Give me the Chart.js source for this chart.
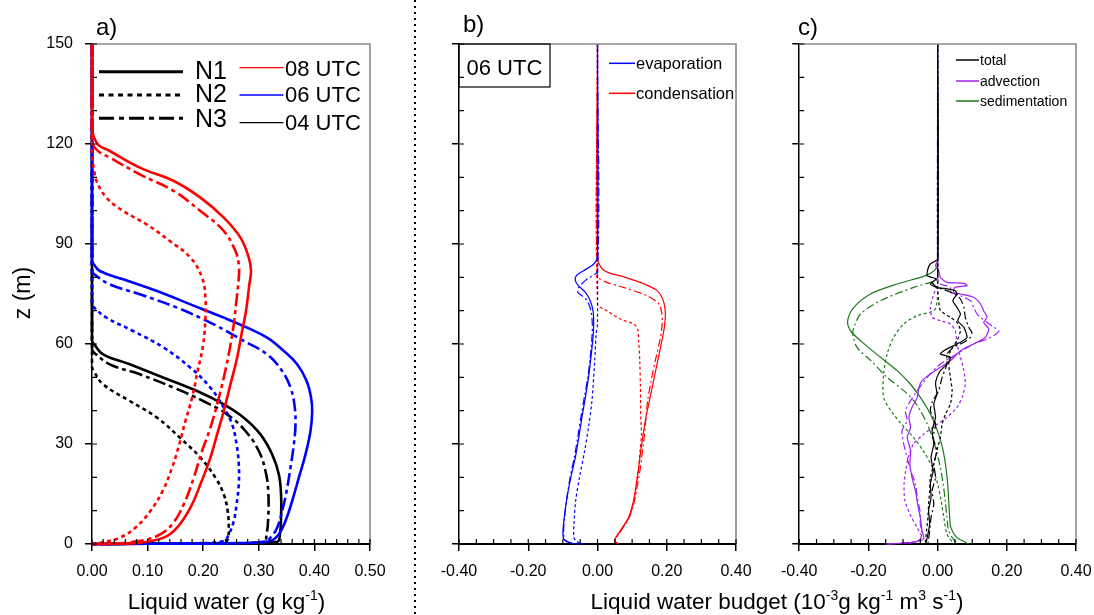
<!DOCTYPE html>
<html><head><meta charset="utf-8">
<script src="https://cdn.jsdelivr.net/npm/chart.js@4.4.1/dist/chart.umd.min.js"></script>
<style>
html,body{margin:0;padding:0;background:#fff;}
#wrap{position:relative;width:1094px;height:615px;overflow:hidden;background:#fff;}
canvas{position:absolute;top:0;}
</style></head><body>
<div id="wrap">
<canvas id="ca" width="420" height="615" style="left:0;width:420px;height:615px"></canvas>
<canvas id="cb" width="674" height="615" style="left:420px;width:674px;height:615px"></canvas>
<canvas id="cc" width="340" height="615" style="left:770px;width:340px;height:615px"></canvas>
</div>
<script>
// ---------- DATA : pairs are [height z (m), value] ----------
// Panel a) liquid water (g/kg)
const lw08_N1 = [[150,0],[125,0],[120,0.01],[117.9,0.032],[112.9,0.086],[108.9,0.147],[103.9,0.195],[97.9,0.237],[91.9,0.267],[85.9,0.282],[81.9,0.286],[77.9,0.283],[69.9,0.277],[63.9,0.270],[55.9,0.261],[47.9,0.249],[39.9,0.237],[32.9,0.225],[25.9,0.213],[17.9,0.195],[10.9,0.177],[4.9,0.153],[1.9,0.129],[0.4,0.086],[0.05,0.026],[0,0]];
const lw08_N2 = [[150,0],[117,0],[112,0.004],[108.9,0.008],[103.9,0.026],[99.9,0.056],[95.9,0.098],[90.9,0.14],[85.9,0.177],[79.9,0.198],[73.9,0.204],[67.9,0.204],[59.9,0.2],[51.9,0.19],[43.9,0.18],[36.9,0.168],[29.9,0.157],[22.9,0.144],[15.9,0.127],[9.9,0.105],[4.9,0.078],[1.9,0.05],[0.4,0.016],[0,0]];
const lw08_N3 = [[150,0],[121,0],[118,0.01],[115.9,0.032],[110.9,0.086],[105.9,0.147],[99.9,0.195],[93.9,0.237],[87.9,0.258],[83.9,0.264],[79.9,0.264],[71.9,0.259],[65.9,0.255],[57.9,0.247],[49.9,0.237],[41.9,0.225],[34.9,0.213],[27.9,0.198],[19.9,0.183],[11.9,0.165],[5.9,0.144],[2.4,0.117],[0.65,0.074],[0.05,0.026],[0,0]];
const lw06_N1 = [[150,0],[85,0],[84,0.003],[81.9,0.014],[79.4,0.056],[75.9,0.117],[71.9,0.177],[67.9,0.237],[64.9,0.279],[61.9,0.315],[57.9,0.345],[53.9,0.369],[48.9,0.386],[43.9,0.394],[39.9,0.396],[33.9,0.393],[26.9,0.384],[19.9,0.372],[12.9,0.36],[6.9,0.348],[2.9,0.336],[0.9,0.321],[0.3,0.267],[0.1,0.1],[0,0]];
const lw06_N2 = [[150,0],[72,0],[70.9,0.004],[67.9,0.026],[63.9,0.074],[58.9,0.129],[52.9,0.177],[46.9,0.213],[40.9,0.237],[35.9,0.252],[29.9,0.26],[23.9,0.264],[17.9,0.264],[11.9,0.26],[6.9,0.255],[2.9,0.246],[0.9,0.237],[0.2,0.177],[0.1,0.1],[0,0]];
const lw06_N3 = [[150,0],[82,0],[80.9,0.004],[77.9,0.032],[74.9,0.086],[70.9,0.153],[65.9,0.219],[60.9,0.273],[56.9,0.315],[51.9,0.342],[46.9,0.357],[41.9,0.364],[35.9,0.366],[29.9,0.363],[22.9,0.357],[15.9,0.35],[9.9,0.342],[4.9,0.333],[1.9,0.321],[0.65,0.309],[0.2,0.237],[0.1,0.1],[0,0]];
const lw04_N1 = [[150,0],[61,0],[59.9,0.004],[56.9,0.02],[53.9,0.068],[49.9,0.129],[45.9,0.189],[41.9,0.237],[37.9,0.273],[32.9,0.303],[26.9,0.324],[20.9,0.336],[14.9,0.34],[7.9,0.34],[2.9,0.338],[0.65,0.333],[0.2,0.237],[0.1,0.1],[0,0]];
const lw04_N2 = [[150,0],[53,0],[51.9,0.003],[47.9,0.02],[42.9,0.068],[37.9,0.117],[31.9,0.158],[25.9,0.195],[19.9,0.222],[14.9,0.237],[9.9,0.244],[4.9,0.246],[1.4,0.244],[0.35,0.237],[0.1,0.1],[0,0]];
const lw04_N3 = [[150,0],[58.5,0],[57.4,0.004],[53.9,0.032],[50.9,0.086],[46.9,0.147],[42.9,0.2],[38.9,0.243],[33.9,0.276],[27.9,0.3],[21.9,0.312],[15.9,0.317],[7.9,0.317],[2.9,0.314],[0.65,0.309],[0.2,0.237],[0.1,0.1],[0,0]];

// Panel b) 06 UTC evaporation / condensation (1e-3 g/kg m3/s)
const evap_N1 = [[150,0],[86.5,0],[84,-0.011],[82,-0.04],[80.5,-0.061],[79,-0.064],[77.5,-0.055],[75.5,-0.035],[73,-0.021],[70,-0.013],[66,-0.011],[62,-0.013],[56,-0.019],[50,-0.026],[44,-0.035],[38,-0.045],[32,-0.054],[26,-0.064],[20,-0.077],[14,-0.088],[8,-0.096],[3,-0.1],[1.25,-0.096],[0.3,-0.079],[0,-0.05]];
const evap_N2 = [[150,0],[66,0],[63,-0.004],[55,-0.008],[43,-0.016],[35,-0.026],[28,-0.037],[20,-0.052],[13,-0.063],[6,-0.068],[2,-0.068],[0.7,-0.06],[0.2,-0.045],[0,-0.03]];
const evap_N3 = [[150,0],[82,0],[79.5,-0.03],[77,-0.054],[75.5,-0.057],[74.5,-0.045],[73,-0.03],[70,-0.019],[66,-0.015],[62,-0.016],[56,-0.021],[50,-0.028],[44,-0.038],[38,-0.048],[32,-0.057],[26,-0.067],[20,-0.079],[14,-0.088],[8,-0.095],[3,-0.098],[1.25,-0.093],[0.3,-0.075],[0,-0.05]];
const cond_N1 = [[150,0],[86,0],[83,0.01],[81.5,0.03],[80,0.08],[78,0.135],[76,0.172],[73,0.19],[69,0.196],[65,0.193],[61,0.186],[55,0.174],[49,0.162],[43,0.15],[38,0.14],[33,0.132],[28,0.125],[23,0.119],[18,0.112],[13,0.104],[8,0.09],[4,0.066],[1,0.049],[0,0.06]];
const cond_N2 = [[150,0],[72,0],[70,0.027],[67.5,0.066],[66,0.104],[64.5,0.116],[61,0.119],[55,0.122],[47,0.124],[38,0.125],[33,0.127],[28,0.123],[23,0.119],[18,0.113],[13,0.105],[8,0.091],[4,0.067],[1,0.05],[0,0.06]];
const cond_N3 = [[150,0],[80.5,0],[78.5,0.027],[77,0.075],[74.5,0.143],[72,0.177],[69,0.186],[65,0.186],[61,0.18],[55,0.167],[49,0.155],[43,0.145],[38,0.14],[33,0.136],[28,0.13],[23,0.124],[18,0.116],[13,0.107],[8,0.092],[4,0.068],[1,0.05],[0,0.06]];

// Panel c) 06 UTC total / advection / sedimentation
const tot_N1 = [[150,0],[85.5,0],[84,-0.021],[82.5,-0.028],[80.5,-0.03],[79.5,-0.004],[78,-0.021],[77,-0.004],[76.5,0.03],[76,0.051],[75,0.056],[73,0.044],[71,0.056],[69,0.066],[67,0.058],[65,0.076],[62,0.085],[60.5,0.066],[59.5,0.046],[58,0.018],[57,0.008],[56,0.037],[54,0.027],[52,0.008],[50,-0.002],[48,-0.006],[45,-0.002],[42,-0.011],[38,-0.006],[34,-0.016],[30,-0.011],[26,-0.019],[22,-0.013],[18,-0.021],[14,-0.019],[10,-0.026],[6,-0.023],[3,-0.028],[1,-0.032],[0,-0.034]];
const tot_N2 = [[150,0],[77,0],[73,0.003],[70,0.008],[68,0.037],[66.5,0.056],[64,0.066],[61,0.056],[58,0.037],[54,0.032],[50,0.037],[46,0.042],[42,0.037],[39,0.023],[36,0.013],[32,0.008],[28,-0.002],[24,-0.011],[20,-0.021],[16,-0.023],[12,-0.026],[8,-0.028],[4,-0.032],[1,-0.035],[0,-0.035]];
const tot_N3 = [[150,0],[80,0],[78.5,-0.016],[77,-0.002],[76,0.027],[75,0.051],[73.5,0.066],[71,0.076],[68,0.08],[65,0.09],[63.5,0.099],[62,0.095],[60.5,0.076],[59,0.046],[57,0.027],[54,0.027],[50,0.013],[46,0.003],[42.5,-0.016],[40,-0.021],[36,-0.006],[32,-0.013],[28,-0.002],[24,-0.011],[20,-0.006],[16,-0.016],[12,-0.011],[8,-0.019],[4,-0.023],[1.5,-0.026],[0,-0.028]];
const adv_N1 = [[150,0],[85,0],[83.5,-0.006],[82,0.003],[80,0.008],[78.5,0.027],[78.2,0.076],[77.5,0.085],[77,0.05],[75.5,0.046],[75,0.066],[74,0.104],[72,0.124],[70,0.133],[68,0.143],[66.5,0.133],[64.5,0.148],[62,0.138],[60,0.104],[58,0.066],[55,0.037],[53,0.008],[51,-0.021],[49,-0.045],[47,-0.054],[44,-0.059],[41,-0.074],[38,-0.083],[35,-0.078],[32,-0.088],[28,-0.078],[24,-0.08],[20,-0.074],[16,-0.064],[12,-0.058],[8,-0.05],[4,-0.045],[1.5,-0.04],[0.55,-0.069],[0.2,-0.11],[0,-0.15]];
const adv_N2 = [[150,0],[78,0],[75,-0.011],[71,-0.021],[68,-0.016],[67,0.008],[66,0.037],[64,0.051],[60,0.056],[56,0.066],[52,0.076],[48,0.08],[44,0.071],[41,0.056],[38,0.027],[36,0.0],[33,-0.04],[30,-0.07],[26,-0.085],[22,-0.092],[18,-0.097],[13,-0.095],[9,-0.08],[5,-0.06],[2,-0.045],[0.8,-0.06],[0,-0.09]];
const adv_N3 = [[150,0],[80,0],[78,0.008],[77,0.037],[75.5,0.037],[74.5,0.066],[73,0.095],[71,0.104],[69,0.114],[68,0.124],[66.5,0.143],[65,0.162],[64,0.177],[62.5,0.162],[61.5,0.143],[60,0.104],[57,0.056],[54,0.008],[50,-0.03],[46,-0.059],[43,-0.078],[40,-0.093],[37,-0.088],[34,-0.103],[30,-0.098],[26,-0.088],[22,-0.078],[18,-0.064],[14,-0.059],[10,-0.051],[6,-0.05],[3,-0.045],[1,-0.054],[0.25,-0.107],[0,-0.146]];
const sed_N1 = [[150,0],[84,0],[82,-0.01],[80.5,-0.035],[78,-0.117],[75,-0.194],[71,-0.242],[67,-0.26],[64,-0.252],[61,-0.223],[56,-0.165],[52,-0.117],[48,-0.079],[44,-0.05],[40,-0.026],[36,-0.008],[32,0.006],[28,0.016],[23,0.024],[18,0.029],[13,0.032],[8,0.035],[5,0.038],[2,0.055],[0.8,0.075],[0,0.09]];
const sed_N2 = [[150,0],[76,0],[72,-0.003],[70,-0.011],[68.5,-0.059],[66,-0.098],[62,-0.127],[57,-0.146],[51,-0.156],[44,-0.156],[40,-0.135],[36,-0.105],[32,-0.07],[28,-0.042],[23,-0.015],[18,0.0],[13,0.01],[8,0.018],[3,0.027],[1,0.04],[0,0.048]];
const sed_N3 = [[150,0],[80,0],[79,-0.006],[77,-0.069],[73,-0.165],[69,-0.223],[65,-0.242],[63,-0.245],[59,-0.233],[55,-0.193],[50,-0.146],[46,-0.098],[43,-0.069],[40,-0.05],[36,-0.03],[32,-0.015],[28,-0.004],[23,0.008],[18,0.016],[13,0.022],[8,0.027],[4,0.032],[1.5,0.045],[0,0.06]];

// ---------- helpers ----------
const FONT = '"Liberation Sans", Arial, Helvetica, sans-serif';
Chart.defaults.font.family = FONT;
Chart.defaults.color = '#000';
const RED='#ff0000', BLUE='#0000ff', BLACK='#000000', PURPLE='#a020f0', GREEN='#1a7a1a';
const DOT_A=[4,3.5], DASHDOT_A=[13,4,4,4], DOT_T=[3,2.5], DASHDOT_T=[8,3,2,3];

function toPts(pairs){ return pairs.map(p => ({x: p[1], y: p[0]})); }
function line(pairs, color, width, dash, tension){
  return {data: toPts(pairs), borderColor: color, backgroundColor: color, borderWidth: width,
    borderDash: dash || [], pointRadius: 0, pointHoverRadius: 0, showLine: true, fill: false,
    tension: tension, clip: 3, borderCapStyle: 'butt', borderJoinStyle: 'round'};
}
function fmt(v){ if (Math.abs(v) < 1e-9) v = 0; return v.toFixed(2); }
function scales(o){
  return {
    x: {type:'linear', min:o.xmin, max:o.xmax, afterFit: s => { s.height = 71; },
      ticks:{stepSize:o.xstep, autoSkip:false, maxRotation:0, padding:11, font:{size:16}, color:'#000', callback: v => fmt(v)},
      grid:{drawOnChartArea:false, drawTicks:true, tickLength:7, color:'#000', lineWidth:1.5},
      border:{display:true, color:'#000', width:2}},
    y: {type:'linear', min:0, max:150, afterFit: s => { s.width = o.yw; },
      ticks:{stepSize:30, display:o.ylab, padding:12, font:{size:16}, color:'#000'},
      grid:{drawOnChartArea:false, drawTicks:true, tickLength:7, color:'#000', lineWidth:1.5},
      border:{display:true, color:'#000', width:1.5}}
  };
}
function frameAndMinor(chart, xMinor){
  const ctx = chart.ctx, a = chart.chartArea, x = chart.scales.x, y = chart.scales.y;
  ctx.save();
  ctx.strokeStyle = '#8a8a8a'; ctx.lineWidth = 1.6;
  ctx.beginPath(); ctx.moveTo(a.left, a.top); ctx.lineTo(a.right, a.top); ctx.lineTo(a.right, a.bottom); ctx.stroke();
  ctx.strokeStyle = '#000'; ctx.lineWidth = 1.2;
  ctx.beginPath();
  const n = Math.round((x.max - x.min) / xMinor);
  for (let i = 0; i <= n; i++){ const px = x.getPixelForValue(x.min + i * xMinor); ctx.moveTo(px, a.bottom); ctx.lineTo(px, a.bottom - 5); }
  for (let v = 0; v <= 150; v += 10){ const py = y.getPixelForValue(v); ctx.moveTo(a.left, py); ctx.lineTo(a.left + 5, py); }
  ctx.stroke();
  ctx.restore();
}
function rich(ctx, segs, cx, base, size){
  const sup = Math.round(size * 0.62);
  let w = 0;
  segs.forEach(s => { ctx.font = (s[1] ? sup : size) + 'px ' + FONT; w += ctx.measureText(s[0]).width; });
  let x = cx - w / 2;
  ctx.textBaseline = 'alphabetic'; ctx.textAlign = 'left'; ctx.fillStyle = '#000';
  segs.forEach(s => {
    ctx.font = (s[1] ? sup : size) + 'px ' + FONT;
    ctx.fillText(s[0], x, s[1] ? base - size * 0.42 : base);
    x += ctx.measureText(s[0]).width;
  });
}
function legLine(ctx, x1, x2, y, color, width, dash){
  ctx.save(); ctx.strokeStyle = color; ctx.lineWidth = width; ctx.setLineDash(dash || []);
  ctx.beginPath(); ctx.moveTo(x1, y); ctx.lineTo(x2, y); ctx.stroke(); ctx.restore();
}
function txt(ctx, s, x, y, size, base){
  ctx.font = size + 'px ' + FONT; ctx.fillStyle = '#000'; ctx.textAlign = 'left';
  ctx.textBaseline = base || 'alphabetic'; ctx.fillText(s, x, y);
}
const common = {responsive:false, animation:false, devicePixelRatio:1, events:[],
  plugins:{legend:{display:false}, tooltip:{enabled:false}}};

// ---------- Panel a ----------
new Chart(document.getElementById('ca'), {
  type:'scatter',
  data:{datasets:[
    line(lw08_N1, RED, 2.6, [], 0.4), line(lw08_N3, RED, 2.6, DASHDOT_A, 0.4), line(lw08_N2, RED, 2.6, DOT_A, 0.4),
    line(lw06_N1, BLUE, 2.6, [], 0.4), line(lw06_N3, BLUE, 2.6, DASHDOT_A, 0.4), line(lw06_N2, BLUE, 2.6, DOT_A, 0.4),
    line(lw04_N1, BLACK, 2.6, [], 0.4), line(lw04_N3, BLACK, 2.6, DASHDOT_A, 0.4), line(lw04_N2, BLACK, 2.6, DOT_A, 0.4)
  ]},
  options:Object.assign({}, common, {
    layout:{padding:{top:44, right:50, left:0, bottom:0}},
    scales: scales({xmin:0, xmax:0.5, xstep:0.1, yw:92, ylab:true})
  }),
  plugins:[{id:'decoA', afterDraw(chart){
    const ctx = chart.ctx;
    frameAndMinor(chart, 0.02);
    // legend
    legLine(ctx, 99, 183, 71.7, BLACK, 3, []);
    legLine(ctx, 99, 183, 95, BLACK, 3, [5,4.5]);
    legLine(ctx, 99, 183, 118.3, BLACK, 3, [15,5,5,5]);
    txt(ctx, 'N1', 195, 78.5, 25); txt(ctx, 'N2', 195, 102, 25); txt(ctx, 'N3', 195, 127, 25);
    legLine(ctx, 239.5, 283.5, 67.7, RED, 1.3, []);
    legLine(ctx, 239.5, 283.5, 95, BLUE, 1.3, []);
    legLine(ctx, 239.5, 283.5, 122.7, BLACK, 1.3, []);
    txt(ctx, '08 UTC', 285, 76, 22); txt(ctx, '06 UTC', 285, 102, 22); txt(ctx, '04 UTC', 285, 130, 22);
    // panel label and titles
    txt(ctx, 'a)', 96, 28, 24, 'middle');
    rich(ctx, [['Liquid water (g kg',0],['-1',1],[')',0]], 226.5, 609, 22.5);
    ctx.save(); ctx.translate(24, 293); ctx.rotate(-Math.PI/2);
    ctx.font = '23px ' + FONT; ctx.textAlign = 'center'; ctx.textBaseline = 'middle'; ctx.fillStyle = '#000';
    ctx.fillText('z (m)', 0, 0); ctx.restore();
    // dotted separator between panel a and panels b/c
    ctx.save(); ctx.strokeStyle = '#000'; ctx.lineWidth = 2; ctx.setLineDash([2,4]);
    ctx.beginPath(); ctx.moveTo(415, 0); ctx.lineTo(415, 615); ctx.stroke(); ctx.restore();
  }}]
});

// ---------- Panel b ----------
new Chart(document.getElementById('cb'), {
  type:'scatter',
  data:{datasets:[
    line(evap_N2, BLUE, 1.2, DOT_T, 0.3), line(evap_N3, BLUE, 1.2, DASHDOT_T, 0.3), line(evap_N1, BLUE, 1.2, [], 0.3),
    line(cond_N2, RED, 1.2, DOT_T, 0.3), line(cond_N3, RED, 1.2, DASHDOT_T, 0.3), line(cond_N1, RED, 1.2, [], 0.3)
  ]},
  options:Object.assign({}, common, {
    layout:{padding:{top:44, right:358, left:0, bottom:0}},
    scales: scales({xmin:-0.4, xmax:0.4, xstep:0.2, yw:39, ylab:false})
  }),
  plugins:[{id:'decoB', afterDraw(chart){
    const ctx = chart.ctx, a = chart.chartArea;
    frameAndMinor(chart, 0.05);
    ctx.save(); ctx.strokeStyle = '#000'; ctx.lineWidth = 1.2;
    ctx.strokeRect(a.left, a.top, 91, 43); ctx.restore();
    txt(ctx, '06 UTC', 46.5, 75, 22);
    legLine(ctx, 189, 215, 63.3, BLUE, 1.5, []); txt(ctx, 'evaporation', 216, 64, 16.5, 'middle');
    legLine(ctx, 189, 215, 93.3, RED, 1.5, []); txt(ctx, 'condensation', 216, 94, 16.5, 'middle');
    txt(ctx, 'b)', 43, 25, 24, 'middle');
    rich(ctx, [['Liquid water budget (10',0],['-3',1],['g kg',0],['-1',1],[' m',0],['3',1],[' s',0],['-1',1],[')',0]], 357, 609, 22.5);
  }}]
});

// ---------- Panel c ----------
new Chart(document.getElementById('cc'), {
  type:'scatter',
  data:{datasets:[
    line(tot_N1, BLACK, 1.2, [], 0.2), line(tot_N3, BLACK, 1.2, DASHDOT_T, 0.2), line(tot_N2, BLACK, 1.2, DOT_T, 0.2),
    line(adv_N1, PURPLE, 1.2, [], 0.2), line(adv_N3, PURPLE, 1.2, DASHDOT_T, 0.2), line(adv_N2, PURPLE, 1.2, DOT_T, 0.2),
    line(sed_N1, GREEN, 1.2, [], 0.3), line(sed_N3, GREEN, 1.2, DASHDOT_T, 0.3), line(sed_N2, GREEN, 1.2, DOT_T, 0.3)
  ]},
  options:Object.assign({}, common, {
    layout:{padding:{top:44, right:34, left:0, bottom:0}},
    scales: scales({xmin:-0.4, xmax:0.4, xstep:0.2, yw:29, ylab:false})
  }),
  plugins:[{id:'decoC', afterDraw(chart){
    const ctx = chart.ctx;
    frameAndMinor(chart, 0.05);
    legLine(ctx, 186, 209, 60, BLACK, 1.5, []); txt(ctx, 'total', 210, 61, 14, 'middle');
    legLine(ctx, 186, 209, 81, PURPLE, 1.5, []); txt(ctx, 'advection', 210, 82, 14, 'middle');
    legLine(ctx, 186, 209, 101, GREEN, 1.5, []); txt(ctx, 'sedimentation', 210, 102, 14, 'middle');
    txt(ctx, 'c)', 28, 28, 24, 'middle');
  }}]
});
</script>
</body></html>
